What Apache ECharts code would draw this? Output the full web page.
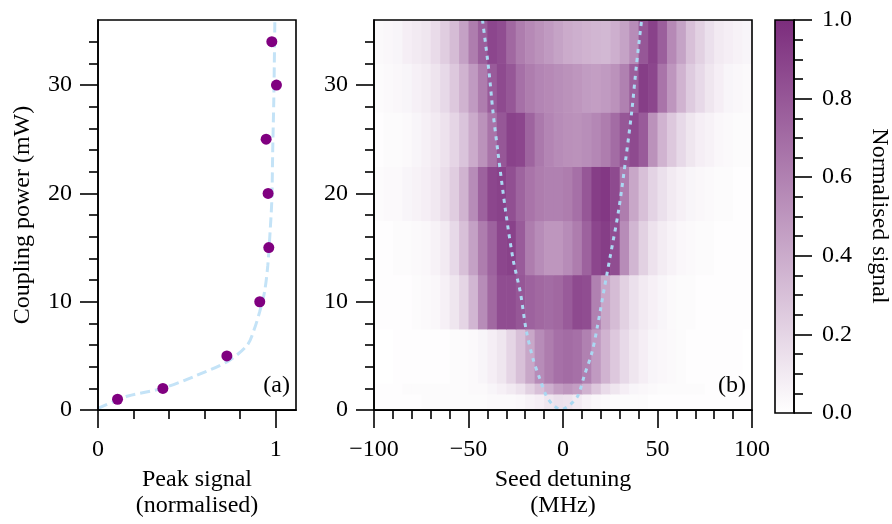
<!DOCTYPE html>
<html><head><meta charset="utf-8">
<script src="https://cdn.jsdelivr.net/npm/echarts@6/dist/echarts.min.js"></script>
<style>html,body{margin:0;padding:0;background:#fff}#c{width:892px;height:524px}</style>
</head><body><div id="c"></div>
<script>
// ---- panel (a): peak signal vs coupling power ----
const peakPower  = [1, 2, 5, 10, 15, 20, 25, 30, 34];
const peakSignal = [0.11, 0.365, 0.725, 0.91, 0.961, 0.957, 0.946, 1.004, 0.978];
const fitSignal  = [0.0, 0.084, 0.17, 0.36, 0.54, 0.73, 0.84, 0.88, 0.91, 0.937, 0.955, 0.968, 0.978, 0.983, 0.989, 0.993, 0.995];
const fitPower   = [0.15, 0.76, 1.3, 2.0, 3.1, 4.5, 6.0, 7.5, 9.1, 10.9, 13.3, 16.4, 19.4, 24.0, 28.6, 33.2, 36.0];

// ---- panel (b): normalised signal map ----
const detuneEdges = [-100,-95,-90,-85,-80,-75,-70,-65,-60,-55,-50,-45,-40,-35,-30,-25,-20,-15,-10,-5,0,5,10,15,20,25,30,35,40,45,50,55,60,65,70,75,80,85,90,95,100];
const powerEdges = [0, 1.5, 2.5, 7.5, 12.5, 17.5, 22.5, 27.5, 32, 36];
const signal1  = [0.01,0.01,0.01,0.01,0.01,0.02,0.02,0.02,0.02,0.02,0.02,0.02,0.03,0.03,0.03,0.04,0.06,0.08,0.12,0.15,0.14,0.10,0.06,0.04,0.03,0.02,0.02,0.02,0.02,0.01,0.01,0.01,0.01,0.01,0.01,0.01,0.01,0.01,0.01,0.01];
const signal2  = [0.01,0.01,0.01,0.02,0.02,0.02,0.02,0.02,0.02,0.02,0.03,0.03,0.05,0.07,0.10,0.14,0.22,0.30,0.38,0.46,0.50,0.46,0.36,0.26,0.17,0.12,0.08,0.05,0.04,0.03,0.02,0.02,0.02,0.02,0.02,0.01,0.01,0.01,0.01,0.01];
const signal5  = [0.00,0.00,0.01,0.01,0.01,0.01,0.01,0.01,0.02,0.02,0.03,0.05,0.08,0.12,0.20,0.30,0.42,0.55,0.62,0.68,0.70,0.68,0.60,0.48,0.36,0.26,0.18,0.12,0.08,0.05,0.04,0.03,0.02,0.01,0.01,0.01,0.01,0.01,0.01,0.00];
const signal10 = [0.01,0.01,0.01,0.01,0.02,0.03,0.04,0.07,0.12,0.20,0.35,0.55,0.72,0.85,0.85,0.80,0.75,0.72,0.70,0.72,0.78,0.86,0.85,0.60,0.42,0.32,0.22,0.15,0.10,0.07,0.05,0.03,0.02,0.02,0.01,0.01,0.01,0.01,0.01,0.01];
const signal15 = [0.01,0.01,0.02,0.02,0.03,0.04,0.06,0.10,0.18,0.30,0.45,0.62,0.75,0.88,0.90,0.78,0.62,0.55,0.50,0.50,0.55,0.62,0.75,0.88,0.92,0.85,0.55,0.35,0.22,0.14,0.09,0.06,0.04,0.03,0.02,0.02,0.01,0.01,0.01,0.01];
const signal20 = [0.02,0.03,0.03,0.05,0.06,0.08,0.11,0.16,0.24,0.36,0.55,0.75,0.88,0.90,0.84,0.74,0.66,0.62,0.60,0.60,0.62,0.68,0.80,0.92,0.95,0.86,0.62,0.42,0.30,0.21,0.15,0.10,0.07,0.05,0.04,0.03,0.02,0.02,0.01,0.01];
const signal25 = [0.01,0.02,0.02,0.03,0.05,0.07,0.10,0.14,0.20,0.28,0.40,0.52,0.66,0.80,0.90,0.88,0.74,0.64,0.58,0.55,0.53,0.52,0.54,0.57,0.62,0.70,0.80,0.86,0.78,0.52,0.36,0.26,0.18,0.12,0.08,0.06,0.04,0.03,0.02,0.02];
const signal30 = [0.02,0.03,0.04,0.05,0.07,0.09,0.13,0.18,0.26,0.36,0.48,0.62,0.78,0.86,0.80,0.68,0.62,0.58,0.56,0.54,0.52,0.50,0.47,0.46,0.48,0.52,0.60,0.76,0.92,0.88,0.66,0.50,0.36,0.25,0.18,0.12,0.08,0.05,0.04,0.03];
const signal34 = [0.03,0.04,0.05,0.08,0.10,0.12,0.17,0.24,0.32,0.45,0.62,0.76,0.88,0.85,0.72,0.62,0.56,0.52,0.48,0.44,0.40,0.38,0.36,0.35,0.34,0.38,0.44,0.55,0.80,0.90,0.76,0.56,0.44,0.30,0.22,0.15,0.10,0.08,0.06,0.05];
const signalRows = [signal1, signal2, signal5, signal10, signal15, signal20, signal25, signal30, signal34];
const parabolaDetune = [-42.6,-39.2,-37.1,-34.5,-30.4,-26.4,-22.5,-19.5,-15.8,-12.5,-8.8,-5.4,-1.0,3.4,7.8,11.3,15.3,18.3,21.8,25.0,29.4,33.3,36.4,38.9,41.6];
const parabolaPower  = [36,31.3,27.6,23.9,18.4,13.9,10.8,7.4,4.7,3.0,1.3,0.5,0.05,0.45,1.3,3.2,5.3,7.8,11.2,14.2,18.4,23.3,27.6,31.9,36];

// ---- ticks ----
const powerTicks = [0, 10, 20, 30];
const powerMinorTicks = [2,4,6,8,12,14,16,18,22,24,26,28,32,34];
const peakTicks = [0, 1];
const peakMinorTicks = [0.2, 0.4, 0.6, 0.8];
const detuneTicks = [-100, -50, 0, 50, 100];
const detuneMinorTicks = [-90,-80,-70,-60,-40,-30,-20,-10,10,20,30,40,60,70,80,90];
const cbTicks = [0, 0.2, 0.4, 0.6, 0.8, 1.0];
const cbMinorTicks = [0.05,0.1,0.15,0.25,0.3,0.35,0.45,0.5,0.55,0.65,0.7,0.75,0.85,0.9,0.95];
const cmapColors = ['#ffffff', '#7c2d7d'];

const FONT = 'Liberation Serif';
const FS = 24;
const LW = 1.6;

function majorAxis(grid, pos, min, max, ticks, fmt, margin, extra) {
  return Object.assign({
    type: 'value', gridIndex: grid, position: pos, min: min, max: max, z: 6,
    axisLine: { show: true, onZero: false, lineStyle: { color: '#000', width: LW } },
    axisTick: { show: true, inside: false, length: 18, customValues: ticks, lineStyle: { color: '#000', width: LW } },
    axisLabel: { show: true, customValues: ticks, formatter: fmt, margin: margin, color: '#000', fontFamily: FONT, fontSize: FS },
    splitLine: { show: false }, minorTick: { show: false }
  }, extra || {});
}
function minorAxis(grid, pos, min, max, ticks) {
  return {
    type: 'value', gridIndex: grid, position: pos, min: min, max: max, z: 6,
    axisLine: { show: false, onZero: false },
    axisTick: { show: true, inside: false, length: 9, customValues: ticks, lineStyle: { color: '#000', width: LW } },
    axisLabel: { show: false }, splitLine: { show: false }
  };
}
const fmtNum = v => v < 0 ? '\u2212' + (-v) : String(v);
const nameStyle = { fontFamily: FONT, fontSize: FS, color: '#000', lineHeight: 26 };

// build heatmap cells from arrays
const cells = [];
for (let r = 0; r < signalRows.length; r++) {
  for (let c = 0; c < detuneEdges.length - 1; c++) {
    cells.push([detuneEdges[c], detuneEdges[c + 1], powerEdges[r], powerEdges[r + 1], signalRows[r][c]]);
  }
}

const chart = echarts.init(document.getElementById('c'), null, { renderer: 'canvas', width: 892, height: 524 });
const gridBase = { show: true, z: 5, borderColor: '#000', borderWidth: LW, backgroundColor: 'transparent' };
const txtStyle = { fontFamily: FONT, fontSize: FS, fill: '#000' };

chart.setOption({
  animation: false,
  backgroundColor: '#fff',
  textStyle: { fontFamily: FONT },
  grid: [
    Object.assign({ left: 98, top: 20, width: 198, height: 393 }, gridBase),
    Object.assign({ left: 374, top: 20, width: 378, height: 393 }, gridBase),
    Object.assign({ left: 775, top: 20, width: 19, height: 393 }, gridBase)
  ],
  xAxis: [
    majorAxis(0, 'bottom', 0, 1.114, peakTicks, fmtNum, 28, { name: 'Peak signal\n(normalised)', nameLocation: 'middle', nameGap: 54, nameTextStyle: nameStyle }),
    minorAxis(0, 'bottom', 0, 1.114, peakMinorTicks),
    majorAxis(1, 'bottom', -100, 100, detuneTicks, fmtNum, 28, { name: 'Seed detuning\n(MHz)', nameLocation: 'middle', nameGap: 54, nameTextStyle: nameStyle }),
    minorAxis(1, 'bottom', -100, 100, detuneMinorTicks),
    { type: 'value', gridIndex: 2, min: 0, max: 1, show: false }
  ],
  yAxis: [
    majorAxis(0, 'left', 0, 36, powerTicks, fmtNum, 26, { name: 'Coupling power (mW)', nameLocation: 'middle', nameGap: 62, nameTextStyle: nameStyle }),
    minorAxis(0, 'left', 0, 36, powerMinorTicks),
    majorAxis(1, 'left', 0, 36, powerTicks, fmtNum, 26),
    minorAxis(1, 'left', 0, 36, powerMinorTicks),
    majorAxis(2, 'right', 0, 1, cbTicks, v => v.toFixed(1), 28),
    minorAxis(2, 'right', 0, 1, cbMinorTicks)
  ],
  visualMap: {
    show: false, type: 'continuous', min: 0, max: 1, dimension: 4, seriesIndex: 2,
    inRange: { color: cmapColors }
  },
  graphic: [
    { type: 'text', x: 290, y: 386, z: 20, style: Object.assign({ text: '(a)', align: 'right', verticalAlign: 'middle' }, txtStyle) },
    { type: 'text', x: 746, y: 386, z: 20, style: Object.assign({ text: '(b)', align: 'right', verticalAlign: 'middle' }, txtStyle) },
    { type: 'text', x: 879, y: 216, rotation: -Math.PI / 2, z: 20, style: Object.assign({ text: 'Normalised signal', align: 'center', verticalAlign: 'middle' }, txtStyle) }
  ],
  series: [
    {
      type: 'line', xAxisIndex: 0, yAxisIndex: 0, z: 2, showSymbol: false, smooth: 0.3,
      data: fitSignal.map((s, i) => [s, fitPower[i]]),
      lineStyle: { color: '#c4e3f7', width: 3, type: [10, 5] }
    },
    {
      type: 'scatter', xAxisIndex: 0, yAxisIndex: 0, z: 3, symbolSize: 11,
      data: peakSignal.map((s, i) => [s, peakPower[i]]),
      itemStyle: { color: '#800080', opacity: 1 }
    },
    {
      type: 'custom', xAxisIndex: 2, yAxisIndex: 2, z: 1,
      encode: { x: [0, 1], y: [2, 3] },
      data: cells,
      renderItem: function (params, api) {
        const p0 = api.coord([api.value(0), api.value(2)]);
        const p1 = api.coord([api.value(1), api.value(3)]);
        return { type: 'rect', shape: { x: p0[0], y: p1[1], width: p1[0] - p0[0] + 0.6, height: p0[1] - p1[1] + 0.6 }, style: { fill: api.visual('color') } };
      }
    },
    {
      type: 'line', xAxisIndex: 2, yAxisIndex: 2, z: 3, showSymbol: false, smooth: 0.3,
      data: parabolaDetune.map((d, i) => [d, parabolaPower[i]]),
      lineStyle: { color: '#aad8f2', width: 3, type: [4, 5] }
    },
    {
      type: 'custom', xAxisIndex: 4, yAxisIndex: 4, z: 1,
      encode: { x: [0, 1], y: [2, 3] },
      data: [[0, 1, 0, 1]],
      renderItem: function (params, api) {
        const p0 = api.coord([api.value(0), api.value(2)]);
        const p1 = api.coord([api.value(1), api.value(3)]);
        return { type: 'rect', shape: { x: p0[0], y: p1[1], width: p1[0] - p0[0], height: p0[1] - p1[1] },
          style: { fill: new echarts.graphic.LinearGradient(0, 1, 0, 0, [{ offset: 0, color: cmapColors[0] }, { offset: 1, color: cmapColors[1] }]) } };
      }
    }
  ]
});
</script></body></html>
